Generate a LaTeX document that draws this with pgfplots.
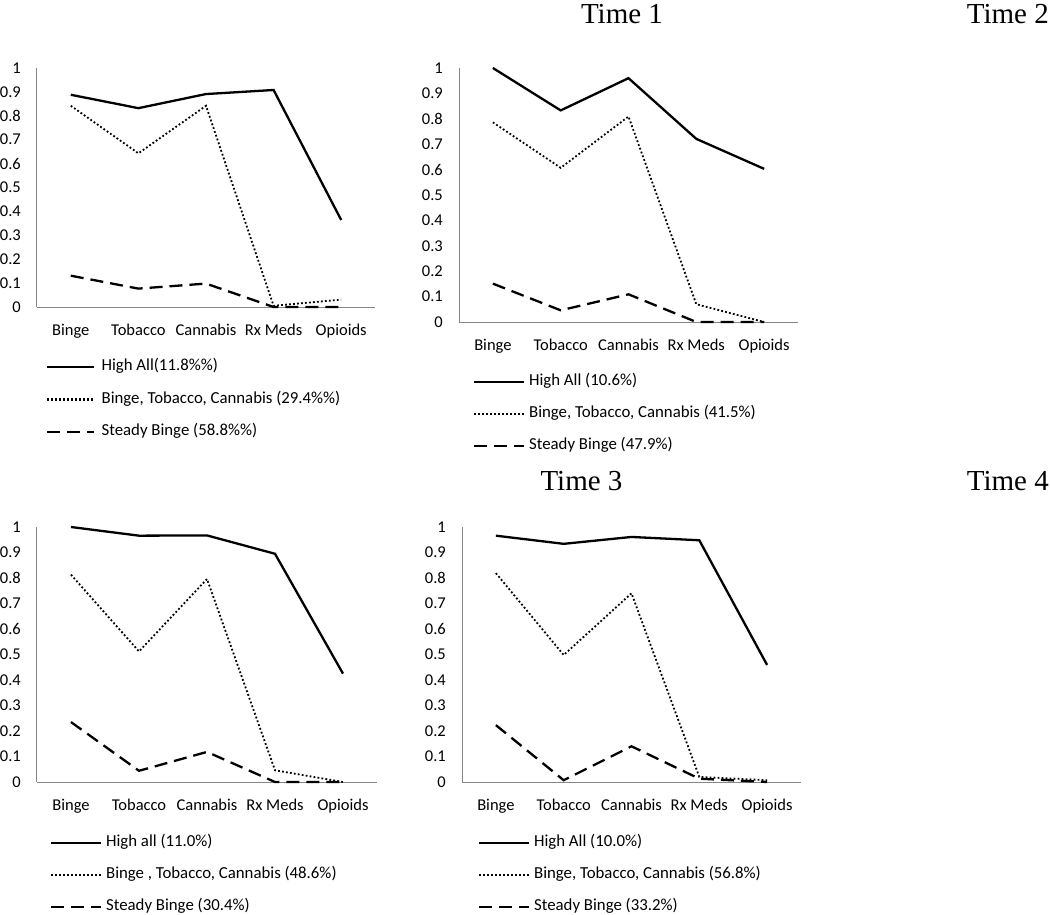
\documentclass[border=0pt]{standalone}
\usepackage{fontspec}
\setmainfont{Carlito}
\newfontfamily\timesfont{Liberation Serif}
\usepackage{pgfplots}
\pgfplotsset{compat=1.18}
\definecolor{axisgray}{RGB}{134,134,134}

\pgfplotsset{
  panel/.style={
    scale only axis,
    anchor=south west,
    xmin=-0.5, xmax=4.5, ymin=0, ymax=1,
    axis lines=left,
    axis line style={-, draw=axisgray, line width=1pt},
    xtick={0,1,2,3,4},
    xticklabels={Binge,Tobacco,Cannabis,Rx Meds,Opioids},
    ytick={0,0.1,0.2,0.3,0.4,0.5,0.6,0.7,0.8,0.9,1},
    yticklabels={0,0.1,0.2,0.3,0.4,0.5,0.6,0.7,0.8,0.9,1},
    major tick length=0pt,
    tick label style={font=\fontsize{16.5}{19}\selectfont},
    xticklabel style={anchor=base, yshift=-28.5pt, inner sep=0pt},
    yticklabel style={anchor=east, xshift=-16pt, inner sep=0pt},
    clip=false,
    legend cell align=left,
    legend style={draw=none, fill=none, inner sep=0pt, outer sep=0pt,
      anchor=north west, row sep=17pt,
      nodes={inner sep=0pt, text height=11pt, text depth=4pt,
        font=\fontsize{16.8}{19}\selectfont}},
    legend image code/.code={\path[draw=none,fill=none] (0pt,-4pt) -- (55pt,4pt);
      \draw[##1] (0pt,0pt) -- (50pt,0pt);},
    legend image post style={line width=2.3pt},
  },
  hi/.style={black, line width=2.3pt, solid},
  btc/.style={black, line width=1.8pt, dash pattern=on 1.8pt off 2.2pt},
  st/.style={black, line width=2.3pt, dash pattern=on 13pt off 7pt},
}

\begin{document}
\begin{tikzpicture}
\useasboundingbox (0pt,-915pt) rectangle (1050pt,0pt);

% Panel 1
\begin{axis}[panel, width=338pt, height=239pt, at={(37pt,-307pt)},
  legend image code/.code={\path[draw=none,fill=none] (0pt,-4pt) -- (54.5pt,4pt);
      \draw[#1] (0pt,0pt) -- (47pt,0pt);},
  legend style={at={(axis description cs:0.0266,-0.2197)}, row sep=17.5pt}]
\addplot[hi] coordinates {(0,0.888) (1,0.832) (2,0.891) (3,0.908) (4,0.364)};
\addlegendentry{High All(11.8\%\%)}
\addplot[btc] coordinates {(0,0.842) (1,0.643) (2,0.842) (3,0.005) (4,0.031)};
\addlegendentry{Binge, Tobacco, Cannabis (29.4\%\%)}
\addplot[st] coordinates {(0,0.131) (1,0.077) (2,0.098) (3,0.0) (4,0.0)};
\addlegendentry{Steady Binge (58.8\%\%)}
\end{axis}

% Panel 2
\begin{axis}[panel, width=339pt, height=254pt, at={(459pt,-322pt)},
  legend style={at={(axis description cs:0.0413,-0.2067)}}]
\addplot[hi] coordinates {(0,1.0) (1,0.833) (2,0.960) (3,0.721) (4,0.603)};
\addlegendentry{High All (10.6\%)}
\addplot[btc] coordinates {(0,0.786) (1,0.607) (2,0.809) (3,0.070) (4,0.0)};
\addlegendentry{Binge, Tobacco, Cannabis (41.5\%)}
\addplot[st] coordinates {(0,0.151) (1,0.046) (2,0.109) (3,0.0) (4,0.0)};
\addlegendentry{Steady Binge (47.9\%)}
\end{axis}

% Panel 3
\begin{axis}[panel, width=340pt, height=255pt, at={(37pt,-782pt)},
  legend style={at={(axis description cs:0.0382,-0.2098)}}]
\addplot[hi] coordinates {(0,1.0) (1,0.966) (2,0.967) (3,0.895) (4,0.425)};
\addlegendentry{High all (11.0\%)}
\addplot[btc] coordinates {(0,0.813) (1,0.512) (2,0.796) (3,0.046) (4,0.0)};
\addlegendentry{Binge , Tobacco, Cannabis (48.6\%)}
\addplot[st] coordinates {(0,0.235) (1,0.044) (2,0.118) (3,0.0) (4,0.0)};
\addlegendentry{Steady Binge (30.4\%)}
\end{axis}

% Panel 4
\begin{axis}[panel, width=339pt, height=255pt, at={(462pt,-782pt)},
  legend style={at={(axis description cs:0.0472,-0.2098)}}]
\addplot[hi] coordinates {(0,0.966) (1,0.934) (2,0.961) (3,0.948) (4,0.459)};
\addlegendentry{High All (10.0\%)}
\addplot[btc] coordinates {(0,0.819) (1,0.498) (2,0.740) (3,0.020) (4,0.007)};
\addlegendentry{Binge, Tobacco, Cannabis (56.8\%)}
\addplot[st] coordinates {(0,0.223) (1,0.007) (2,0.140) (3,0.013) (4,0.0)};
\addlegendentry{Steady Binge (33.2\%)}
\end{axis}

\node[font=\timesfont\fontsize{29}{34}\selectfont, anchor=base] at (622pt,-24pt) {Time 1};
\node[font=\timesfont\fontsize{29}{34}\selectfont, anchor=base east, inner sep=0pt] at (1049pt,-24pt) {Time 2};
\node[font=\timesfont\fontsize{29}{34}\selectfont, anchor=base] at (581.5pt,-490pt) {Time 3};
\node[font=\timesfont\fontsize{29}{34}\selectfont, anchor=base east, inner sep=0pt] at (1049pt,-490pt) {Time 4};
\end{tikzpicture}
\end{document}
